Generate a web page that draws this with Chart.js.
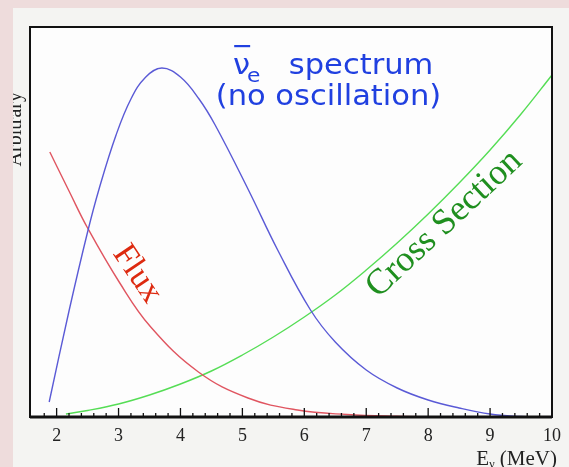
<!DOCTYPE html>
<html>
<head>
<meta charset="utf-8">
<script src="https://cdn.jsdelivr.net/npm/chart.js@4.4.1/dist/chart.umd.min.js"></script>
<style>
  html, body { margin: 0; padding: 0; background: #eedcdc; }
  #wrap { width: 569px; height: 467px; }
</style>
</head>
<body>
<div id="wrap"><canvas id="chart" width="569" height="467"></canvas></div>
<script>
// x axis: neutrino energy (MeV)
const xTicks = [2, 3, 4, 5, 6, 7, 8, 9, 10];
const xMin = 1.57, xMax = 10;
const yMax = 390;

// anti-nu_e spectrum (no oscillation)
const specE = [1.88, 2.2, 2.5, 2.69, 2.96, 3.2, 3.44, 3.7, 4.0, 4.3, 4.56, 5.09, 5.57, 6.1, 6.5, 7.0, 7.5, 8.0, 8.5, 9.0, 9.5, 9.8];
const specY = [15, 106, 185, 229, 282, 318, 340, 349, 340, 318, 292, 228, 167, 107, 75, 47, 29, 17, 9, 3, 0.5, 0];

// reactor flux
const fluxE = [1.89, 2.2, 2.5, 3.01, 3.52, 4.29, 5.09, 5.89, 6.69, 7.49, 8.3];
const fluxY = [265, 226, 189, 135, 90, 45, 19, 7, 2.5, 0.7, 0];

// IBD cross section
const xsecE = [2.15, 2.5, 3, 3.5, 4, 4.5, 5, 5.5, 6, 6.5, 7, 7.5, 8, 8.5, 9, 9.5, 10];
const xsecY = [3, 6.5, 13, 22, 33, 46, 62, 80, 100, 122, 147, 174, 203, 234, 267, 303, 342];

const pts = (xs, ys) => xs.map((x, i) => ({ x: x, y: ys[i] }));

function line(data, color) {
  return {
    data: data, borderColor: color, borderWidth: 1.4, pointRadius: 0,
    tension: 0.4, fill: false
  };
}

const decor = {
  id: 'decor',
  beforeDraw(chart) {
    const c = chart.ctx, a = chart.chartArea;
    c.save();
    c.fillStyle = '#eedcdc';
    c.fillRect(0, 0, chart.width, chart.height);
    c.fillStyle = '#f4f4f2';
    c.fillRect(13, 8, chart.width - 13, chart.height - 8);
    c.fillStyle = '#fdfdfd';
    c.fillRect(a.left, a.top, a.right - a.left, a.bottom - a.top);
    c.restore();
  },
  afterDraw(chart) {
    const c = chart.ctx, a = chart.chartArea;
    const sx = chart.scales.x, sy = chart.scales.y;
    c.save();

    // frame
    c.strokeStyle = '#111';
    c.lineWidth = 2;
    c.strokeRect(a.left, a.top, a.right - a.left, a.bottom - a.top);
    c.lineWidth = 3;
    c.beginPath();
    c.moveTo(a.left, a.bottom);
    c.lineTo(a.right, a.bottom);
    c.stroke();

    // inward ticks
    c.lineWidth = 1.3;
    c.beginPath();
    for (let k = 8; k <= 50; k++) {
      const v = k * 0.2;
      const px = sx.getPixelForValue(v);
      if (px < a.left + 2 || px > a.right - 2) continue;
      const len = (k % 5 === 0) ? 9 : 4;
      c.moveTo(px, a.bottom);
      c.lineTo(px, a.bottom - len);
    }
    c.stroke();

    // title (slightly widened sans to mimic the original hand font)
    c.fillStyle = '#2040e0';
    c.textBaseline = 'alphabetic';
    c.textAlign = 'left';
    const nx = sx.getPixelForValue(4.85), ny = sy.getPixelForValue(343);
    c.save();
    c.translate(nx, ny);
    c.scale(1.09, 1);
    c.font = '28px "DejaVu Sans"';
    c.fillText('\u03bd', 0, 0);
    const nw = c.measureText('\u03bd').width;
    c.fillRect(1, -29, nw - 1, 2.2);
    c.font = '20px "DejaVu Sans"';
    c.fillText('e', nw - 3, 8);
    c.restore();

    c.save();
    c.translate(sx.getPixelForValue(5.75), ny);
    c.scale(1.09, 1);
    c.font = '28px "DejaVu Sans"';
    c.fillText('spectrum', 0, 0);
    c.restore();

    c.save();
    c.translate(sx.getPixelForValue(6.39), sy.getPixelForValue(312));
    c.scale(1.09, 1);
    c.font = '28px "DejaVu Sans"';
    c.textAlign = 'center';
    c.fillText('(no oscillation)', 0, 0);
    c.restore();

    // curve labels
    c.textAlign = 'center';
    c.textBaseline = 'middle';
    c.save();
    c.translate(sx.getPixelForValue(3.3), sy.getPixelForValue(143));
    c.rotate(56 * Math.PI / 180);
    c.fillStyle = '#dd2a10';
    c.font = '34px "Liberation Serif"';
    c.fillText('Flux', 0, 0);
    c.restore();

    c.save();
    c.translate(sx.getPixelForValue(8.26), sy.getPixelForValue(193));
    c.rotate(-43 * Math.PI / 180);
    c.fillStyle = '#1f8f1f';
    c.font = '36px "Liberation Serif"';
    c.fillText('Cross Section', 0, 0);
    c.restore();

    // x axis title E_nu (MeV)
    c.fillStyle = '#222';
    c.textBaseline = 'alphabetic';
    c.textAlign = 'left';
    c.font = '21px "Liberation Serif"';
    const wE = c.measureText('E').width;
    const wR = c.measureText(' (MeV)').width;
    c.font = '12px "Liberation Serif"';
    const wN = c.measureText('\u03bd').width;
    let tx = 557 - wE - wN - wR;
    c.font = '21px "Liberation Serif"';
    c.fillText('E', tx, 465);
    c.font = '12px "Liberation Serif"';
    c.fillText('\u03bd', tx + wE, 468);
    c.font = '21px "Liberation Serif"';
    c.fillText(' (MeV)', tx + wE + wN, 465);

    // y axis title, mostly hidden behind the border
    c.save();
    c.translate(21, 92);
    c.rotate(-Math.PI / 2);
    c.textAlign = 'right';
    c.font = '20px "Liberation Serif"';
    c.fillStyle = '#222';
    c.fillText('Arbitrary', 0, 0);
    c.restore();

    c.fillStyle = '#eedcdc';
    c.fillRect(0, 0, 13, chart.height);
    c.fillRect(0, 0, chart.width, 8);
    c.restore();
  }
};

new Chart(document.getElementById('chart'), {
  type: 'line',
  data: {
    datasets: [
      line(pts(specE, specY), '#5a5ad6'),
      line(pts(fluxE, fluxY), '#e05560'),
      line(pts(xsecE, xsecY), '#55dd55')
    ]
  },
  options: {
    responsive: false,
    animation: false,
    layout: { padding: { left: 30, top: 27, right: 11, bottom: 0 } },
    plugins: { legend: { display: false }, tooltip: { enabled: false } },
    scales: {
      x: {
        type: 'linear', min: xMin, max: xMax,
        afterBuildTicks: s => { s.ticks = xTicks.map(v => ({ value: v })); },
        afterFit: s => { s.height = 50; },
        grid: { display: false, drawTicks: false },
        border: { display: false },
        ticks: {
          font: { family: 'Liberation Serif', size: 18 }, color: '#222',
          padding: 8, maxRotation: 0, autoSkip: false
        }
      },
      y: { display: false, min: 0, max: yMax }
    }
  },
  plugins: [decor]
});
</script>
</body>
</html>
